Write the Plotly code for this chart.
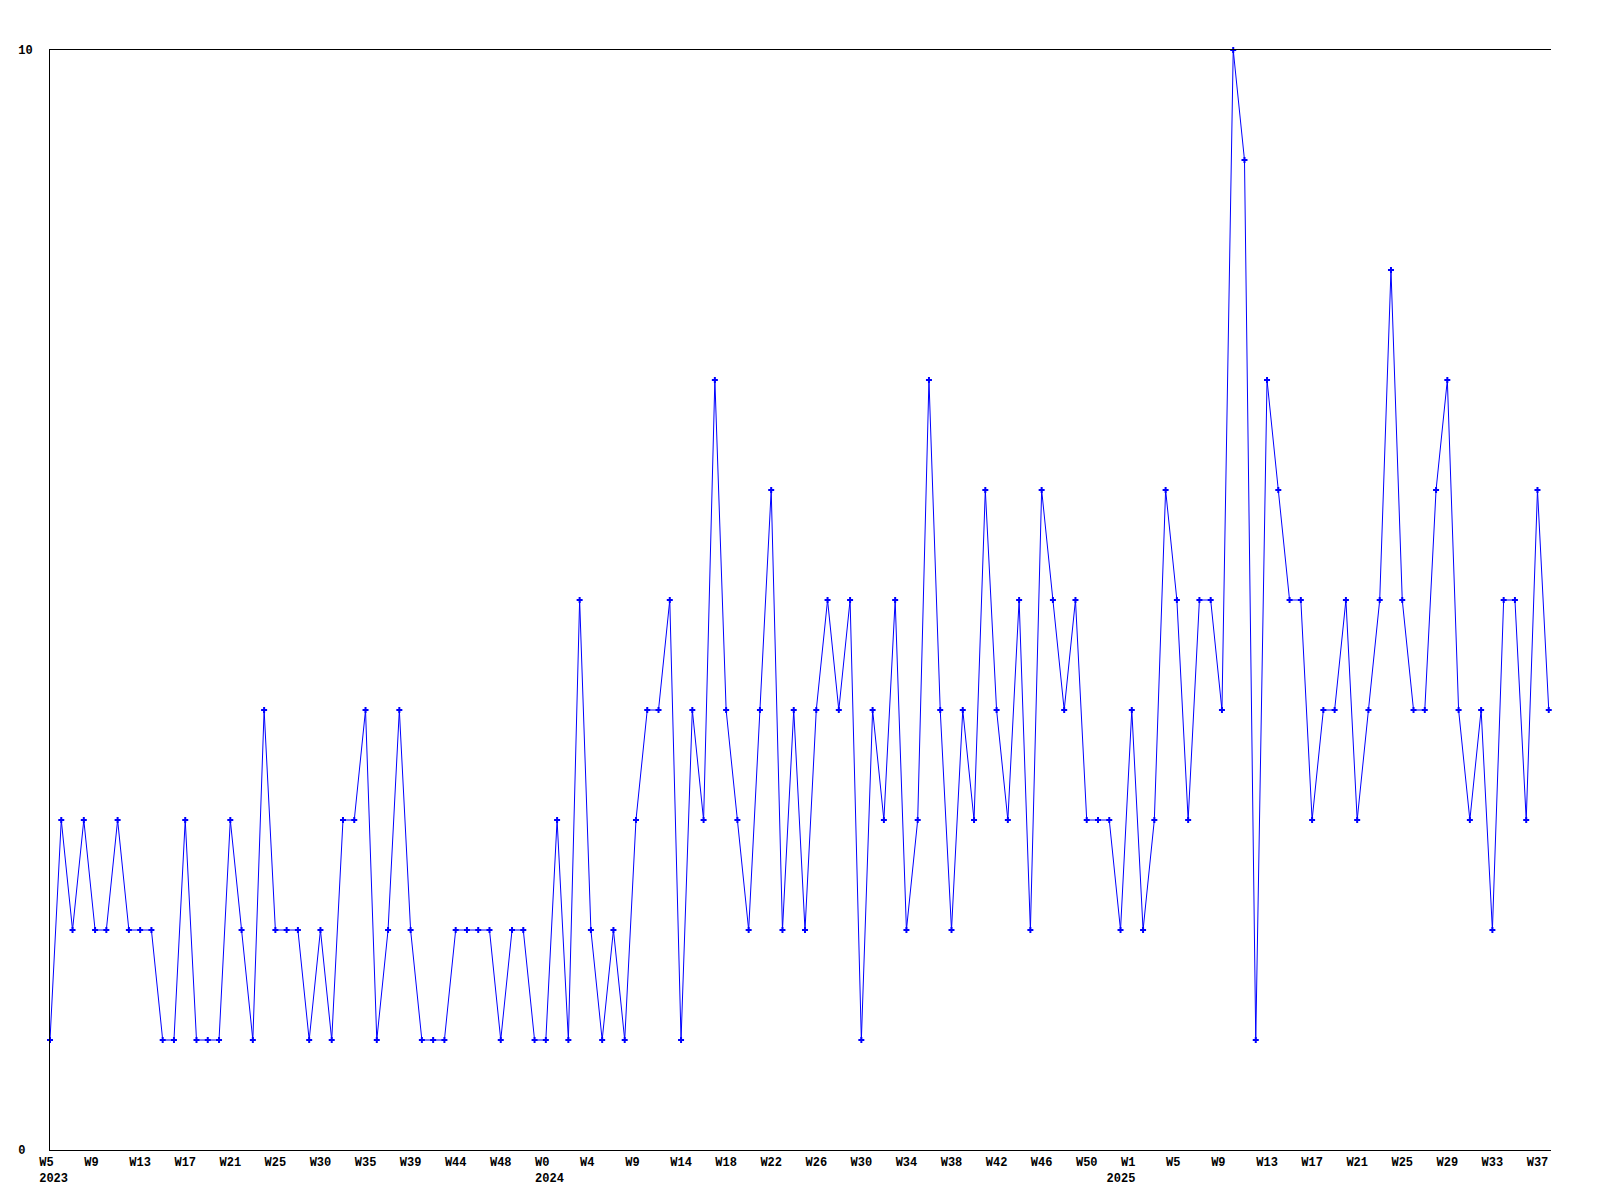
import plotly.graph_objects as go

NB = "\u00a0"

# weekly values, 2023 W5 .. 2025 (134 weeks)
values = [
    1, 3, 2, 3, 2, 2, 3, 2, 2, 2,
    1, 1, 3, 1, 1, 1, 3, 2, 1, 4,
    2, 2, 2, 1, 2, 1, 3, 3, 4, 1,
    2, 4, 2, 1, 1, 1, 2, 2, 2, 2,
    1, 2, 2, 1, 1, 3, 1, 5, 2, 1,
    2, 1, 3, 4, 4, 5, 1, 4, 3, 7,
    4, 3, 2, 4, 6, 2, 4, 2, 4, 5,
    4, 5, 1, 4, 3, 5, 2, 3, 7, 4,
    2, 4, 3, 6, 4, 3, 5, 2, 6, 5,
    4, 5, 3, 3, 3, 2, 4, 2, 3, 6,
    5, 3, 5, 5, 4, 10, 9, 1, 7, 6,
    5, 5, 3, 4, 4, 5, 3, 4, 5, 8,
    5, 4, 4, 6, 7, 4, 3, 4, 2, 5,
    5, 3, 6, 4,
]
x_index = list(range(len(values)))

# tick labels (one every 4 weeks)
tick_weeks = ["W5", "W9", "W13", "W17", "W21", "W25", "W30", "W35", "W39", "W44",
              "W48", "W0", "W4", "W9", "W14", "W18", "W22", "W26", "W30", "W34",
              "W38", "W42", "W46", "W50", "W1", "W5", "W9", "W13", "W17", "W21",
              "W25", "W29", "W33", "W37"]
tick_years = {0: NB + "2023", 11: NB + "2024", 24: "2025" + NB * 3}
tick_step = 4

tickvals = [i * tick_step for i in range(len(tick_weeks))]
ticktext = []
for i, w in enumerate(tick_weeks):
    t = w + NB * (3 - len(w))
    if i in tick_years:
        t += "<br>" + tick_years[i]
    ticktext.append(t)

y_tickvals = [0, 10]
y_ticktext = ["0" + NB, "10"]

font = dict(family="Liberation Mono, DejaVu Sans Mono, monospace", size=12, color="black", weight="bold")

fig = go.Figure()
fig.add_trace(go.Scatter(
    x=x_index, y=values, mode="lines+markers",
    line=dict(color="#0000ff", width=1),
    marker=dict(symbol="cross", size=5, color="#0000ff", line=dict(width=0)),
    cliponaxis=False, showlegend=False,
))

# page body has an 8px margin: compensate so the plot area lands at 50..1551 x 50..1150
fig.update_layout(
    width=1584, height=1184,
    margin=dict(l=42, r=41, t=42, b=42, autoexpand=False),
    paper_bgcolor="white", plot_bgcolor="white",
    font=font,
)
fig.update_xaxes(
    range=[0, 133.2], showgrid=False, zeroline=False, automargin=False,
    showline=True, linecolor="black", linewidth=1, mirror=True,
    tickmode="array", tickvals=tickvals, ticktext=ticktext,
    ticks="", tickfont=font, ticklabelstandoff=1,
)
fig.update_yaxes(
    range=[0, 10], showgrid=False, zeroline=False, automargin=False,
    showline=True, linecolor="black", linewidth=1, mirror=False,
    tickmode="array", tickvals=y_tickvals, ticktext=y_ticktext,
    ticks="", tickfont=font, ticklabelstandoff=14,
)

fig.write_html("out.html")
